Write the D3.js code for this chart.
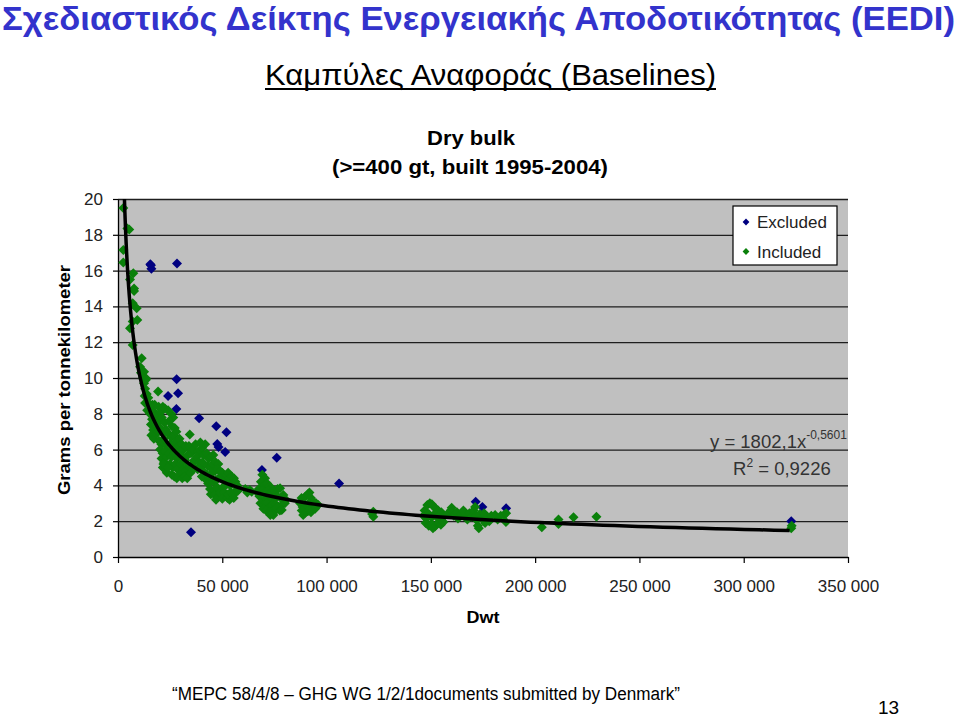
<!DOCTYPE html>
<html><head><meta charset="utf-8">
<script src="https://cdn.jsdelivr.net/npm/d3@7"></script>
<style>
body{margin:0;background:#fff;}
svg{display:block;font-family:"Liberation Sans",Arial,Helvetica,sans-serif;}
</style>
</head><body>
<svg id="c" width="959" height="718"></svg>
<script>
// ---------- data ----------
const mainTitle = "Σχεδιαστικός Δείκτης Ενεργειακής Αποδοτικότητας (EEDI)";
const subTitle = "Καμπύλες Αναφοράς (Baselines)";
const chartTitle = ["Dry bulk", "(>=400 gt, built 1995-2004)"];
const xLabel = "Dwt";
const yLabel = "Grams per tonnekilometer";
const xTicks = [0, 50000, 100000, 150000, 200000, 250000, 300000, 350000];
const yTicks = [0, 2, 4, 6, 8, 10, 12, 14, 16, 18, 20];
const seriesNames = ["Excluded", "Included"];
const seriesColors = ["#000080", "#0a800a"];
// points: [dwt (thousand tonnes), grams per tonne-km]
const excluded = [
  [15.8,16.3],[16.0,16.1],[15.5,16.35],[28.3,16.4],[28.1,9.93],[24.0,9.0],[28.8,9.15],[28.0,8.27],
  [38.9,7.75],[47.1,7.3],[52.0,6.97],[47.6,6.31],[48.2,6.14],[51.4,5.87],[35.0,1.38],[69.0,4.86],
  [76.1,5.55],[106.0,4.1],[171.5,3.09],[174.7,2.8],[186.1,2.72],[322.8,2.0]
];
const included = [
  [2.55,19.5],[4.5,18.35],[5.4,18.3],[2.55,17.15],[2.55,16.45],[7.35,15.85],[5.75,15.5],[7.7,15.0],
  [7.7,14.86],[7.05,14.17],[8.95,13.9],[9.25,13.24],[5.75,12.78],[7.05,13.15],[7.05,11.84],[11.35,11.1],
  [10.55,10.63],[12.5,10.35],[13.4,9.98],
  [11.0,10.3],[12.0,10.0],[12.5,9.7],[13.4,9.9],[13.0,9.4],[13.8,9.1],[14.5,8.9],[12.8,9.0],[13.0,8.6],[14.0,8.2],
  [14.6,8.6],[15.5,8.3],[16.5,8.5],[15.3,8.0],[16.3,7.7],[17.3,8.1],[18.2,7.9],[15.8,7.4],[16.8,7.1],
  [17.8,7.4],[16.0,6.8],[17.2,6.6],[18.5,6.9],[19.2,9.25],[17.6,8.5],
  [19.5,8.4],[20.5,8.1],[21.5,8.4],[22.5,8.3],[19.8,7.6],[21.0,7.8],[22.4,7.5],[19.2,7.0],[20.3,7.2],
  [21.6,6.9],[23.0,7.1],[19.6,6.5],[20.8,6.3],[22.0,6.6],[23.2,6.2],[20.2,6.0],[21.4,5.8],[22.6,5.9],
  [20.9,5.5],[22.1,5.3],[23.3,5.6],[21.5,5.0],[22.7,4.9],[23.4,4.7],[21.8,5.2],
  [24.0,8.2],[25.5,8.0],[26.5,7.8],[24.5,7.6],[25.8,7.3],[27.2,7.2],[24.2,6.9],[25.5,6.7],[26.8,6.8],
  [28.0,7.0],[24.8,6.3],[26.0,6.1],[27.3,6.4],[28.2,6.1],[24.4,5.8],[25.7,5.6],[27.0,5.8],[28.3,5.5],
  [24.9,5.2],[26.2,5.0],[27.5,5.2],[28.5,4.9],[25.8,4.6],[27.0,4.5],[28.2,4.4],[24.0,5.0],
  [29.5,6.6],[30.5,6.3],[31.5,6.0],[32.5,6.2],[29.8,5.9],[31.0,5.6],[32.2,5.4],[33.5,5.7],[30.0,5.2],
  [31.2,4.9],[32.5,4.8],[33.8,5.1],[29.6,4.6],[30.8,4.4],[32.0,4.5],[33.2,4.4],[34.4,6.85],[34.0,6.2],
  [35.0,5.8],[35.5,5.2],[34.8,4.7],
  [36.0,6.0],[37.2,6.3],[38.5,5.9],[36.5,5.4],[37.8,5.6],[39.0,5.3],[36.8,5.0],[38.2,4.9],[39.5,5.0],
  [40.3,6.1],[41.0,5.7],[40.5,5.3],[40.8,4.8],[41.5,4.4],[40.2,4.5],[41.8,6.3],[39.5,6.4],
  [42.5,5.8],[43.5,5.5],[44.7,5.6],[45.7,5.7],[43.0,5.1],[44.2,5.0],[45.5,5.2],[46.8,5.3],[48.1,5.2],
  [42.7,4.6],[43.9,4.4],[45.2,4.7],[46.5,4.8],[47.8,4.9],[49.0,4.8],[50.0,4.7],[43.2,4.1],[44.1,3.8],
  [45.6,4.2],[46.9,4.3],[48.2,4.4],[49.5,4.4],[50.5,4.3],[44.5,3.5],[46.0,3.7],[46.4,3.46],[47.5,3.9],
  [48.1,3.37],[49.0,3.6],[50.3,3.9],[51.0,3.6],[51.5,4.0],[47.0,3.2],[50.0,3.25],[52.5,3.3],[53.5,3.2],
  [52.0,4.6],[52.8,4.7],[53.5,4.4],[54.5,4.5],[55.6,4.4],[52.5,4.1],[53.8,4.0],[55.0,4.1],[56.3,4.2],
  [57.2,4.0],[52.8,3.5],[54.0,3.6],[55.3,3.46],[56.5,3.7],[57.5,3.7],[55.5,3.3],[58.0,3.8],
  [61.0,3.8],[63.2,3.74],[64.1,3.65],[62.0,3.6],
  [69.2,4.6],[70.5,4.4],[68.5,4.2],[70.0,4.0],[71.5,4.1],[72.8,3.95],[67.5,3.8],[69.0,3.7],[70.5,3.6],
  [72.0,3.7],[73.5,3.6],[75.0,3.7],[76.5,3.8],[77.7,3.84],[67.8,3.4],[69.2,3.3],[70.7,3.2],[72.2,3.3],
  [73.6,3.2],[75.1,3.3],[76.5,3.4],[78.0,3.3],[79.3,3.46],[68.3,3.0],[69.8,2.9],[71.3,3.0],[72.8,2.8],
  [74.2,2.9],[75.6,2.95],[77.0,2.8],[78.5,2.9],[80.0,3.0],[69.7,2.7],[71.0,2.6],[72.5,2.5],[73.7,2.53],
  [75.2,2.55],[76.1,2.75],[77.6,2.6],[78.5,2.63],[74.5,2.35],[73.0,2.35],[66.8,3.6],[80.5,3.2],
  [88.0,3.3],[89.7,3.37],[91.0,3.5],[91.8,3.6],[92.5,3.3],[93.7,3.1],[95.0,3.0],[96.0,2.9],[87.3,3.0],
  [88.5,2.8],[90.0,2.9],[91.5,3.0],[93.0,2.8],[94.5,2.7],[88.1,2.6],[89.5,2.45],[91.0,2.55],[92.5,2.5],[88.8,2.35],
  [122.4,2.53],[122.4,2.25],[121.8,2.4],
  [147.0,2.6],[148.3,2.9],[149.5,3.0],[150.5,2.95],[151.5,2.8],[152.5,2.7],[153.5,2.6],[155.0,2.5],
  [146.5,2.3],[147.8,2.15],[149.0,2.4],[150.3,2.2],[151.8,2.4],[153.0,2.2],[154.4,2.35],[155.5,2.2],
  [156.5,2.3],[147.5,1.9],[149.0,1.75],[150.5,1.85],[152.0,1.7],[153.5,1.9],[154.8,1.8],[156.0,1.95],[151.0,1.6],
  [158.0,2.4],[159.5,2.6],[160.0,2.75],[161.0,2.3],[162.5,2.5],[163.0,2.15],[164.5,2.4],[165.6,2.6],
  [166.5,2.3],[167.5,2.1],[168.5,2.45],[169.5,2.25],[170.5,2.6],[171.2,2.8],[171.5,2.3],[172.0,2.05],
  [172.5,1.75],[173.0,1.6],[173.5,2.4],[174.5,2.15],[175.5,2.45],[176.0,1.9],[177.0,2.25],[178.0,2.0],
  [179.0,2.3],[180.8,2.35],[182.0,2.1],[183.5,2.3],[185.0,2.35],[186.1,2.45],[186.0,1.95],
  [203.2,1.66],[211.2,2.1],[211.2,1.84],[218.4,2.22],[229.4,2.25],[322.8,1.6],[323.0,1.75]
];
// power trendline shown on the chart: y = 1802,1 x^-0,5601
const trendCoef = 1802.1;
const trendExp = -0.5601;
const trendDomain = [3090, 322000];
const equationMain = "y = 1802,1x";
const equationSup = "-0,5601";
const rSquared = ["R", "2", " = 0,9226"];
const footer = "\u201CMEPC 58/4/8 \u2013 GHG WG 1/2/1documents submitted by Denmark\u201D";
const pageNumber = "13";

// ---------- drawing ----------
const svg = d3.select("#c");
const L = 118, R = 848, T = 199, B = 557;
const x = d3.scaleLinear().domain([0, 350000]).range([L, R]);
const y = d3.scaleLinear().domain([0, 20]).range([B, T]);
const fmt = d3.formatLocale({decimal: ",", thousands: " ", grouping: [3], currency: ["", ""]}).format(",d");

// titles
svg.append("text").attr("x", 2).attr("y", 30)
  .attr("font-size", 33).attr("font-weight", "bold").attr("fill", "#3333cc")
  .attr("textLength", 953).attr("lengthAdjust", "spacingAndGlyphs").text(mainTitle);
svg.append("text").attr("x", 265).attr("y", 85)
  .attr("font-size", 29).attr("fill", "#000")
  .attr("textLength", 451).attr("lengthAdjust", "spacingAndGlyphs").text(subTitle);
svg.append("line").attr("x1", 265).attr("x2", 716).attr("y1", 89).attr("y2", 89)
  .attr("stroke", "#000").attr("stroke-width", 2);

svg.append("text").attr("x", 471).attr("y", 145).attr("text-anchor", "middle")
  .attr("font-size", 21).attr("font-weight", "bold").attr("textLength", 88)
  .attr("lengthAdjust", "spacingAndGlyphs").text(chartTitle[0]);
svg.append("text").attr("x", 470).attr("y", 174).attr("text-anchor", "middle")
  .attr("font-size", 21).attr("font-weight", "bold").attr("textLength", 276)
  .attr("lengthAdjust", "spacingAndGlyphs").text(chartTitle[1]);

// plot background
svg.append("rect").attr("x", L).attr("y", T).attr("width", R - L).attr("height", B - T).attr("fill", "#c0c0c0");

// gridlines
svg.append("g").attr("transform", `translate(${L},0)`)
  .call(d3.axisLeft(y).tickValues(yTicks.filter(v => v > 0)).tickSize(-(R - L)).tickFormat(""))
  .call(g => g.select(".domain").remove())
  .call(g => g.selectAll("line").attr("stroke", "#1e1e1e").attr("stroke-width", 1.3));

// axes
const yAx = svg.append("g").attr("transform", `translate(${L},0)`)
  .call(d3.axisLeft(y).tickValues(yTicks).tickSize(5).tickPadding(10).tickSizeOuter(0));
const xAx = svg.append("g").attr("transform", `translate(0,${B})`)
  .call(d3.axisBottom(x).tickValues(xTicks).tickFormat(fmt).tickSize(6).tickPadding(17).tickSizeOuter(0));
[yAx, xAx].forEach(a => {
  a.selectAll("text").attr("font-size", 17).attr("fill", "#222").attr("font-family", '"Liberation Sans",Arial,sans-serif');
  a.selectAll("line").attr("stroke", "#000").attr("stroke-width", 1.2);
  a.select(".domain").attr("stroke", "#000").attr("stroke-width", 1.3);
});

// axis labels
svg.append("text").attr("transform", "translate(70,380) rotate(-90)").attr("text-anchor", "middle")
  .attr("font-size", 17).attr("font-weight", "bold").attr("textLength", 230)
  .attr("lengthAdjust", "spacingAndGlyphs").text(yLabel);
svg.append("text").attr("x", 483).attr("y", 623).attr("text-anchor", "middle")
  .attr("font-size", 17).attr("font-weight", "bold").attr("textLength", 33)
  .attr("lengthAdjust", "spacingAndGlyphs").text(xLabel);

// markers
const diamond = r => `M0,${-r}L${r},0L0,${r}L${-r},0Z`;
const plot = svg.append("g");
[excluded, included].forEach((data, i) => {
  plot.append("g").selectAll("path").data(data).join("path")
    .attr("transform", d => `translate(${x(d[0] * 1000)},${y(d[1])})`)
    .attr("d", diamond(5)).attr("fill", seriesColors[i]);
});

// trendline
svg.append("clipPath").attr("id", "pc").append("rect")
  .attr("x", L).attr("y", T).attr("width", R - L).attr("height", B - T);
const tx = d3.range(0, 201).map(k => trendDomain[0] * Math.pow(trendDomain[1] / trendDomain[0], k / 200));
svg.append("path").attr("clip-path", "url(#pc)")
  .datum(tx)
  .attr("d", d3.line().x(d => x(d)).y(d => y(trendCoef * Math.pow(d, trendExp))))
  .attr("fill", "none").attr("stroke", "#000").attr("stroke-width", 3.5);

// equation
const eq = svg.append("text").attr("x", 710).attr("y", 448).attr("font-size", 18.5).attr("fill", "#333");
eq.append("tspan").text(equationMain);
eq.append("tspan").attr("font-size", 12).attr("dy", -9).text(equationSup);
const r2 = svg.append("text").attr("x", 733).attr("y", 475).attr("font-size", 18.5).attr("fill", "#333");
r2.append("tspan").text(rSquared[0]);
r2.append("tspan").attr("font-size", 12).attr("dy", -8).text(rSquared[1]);
r2.append("tspan").attr("dy", 8).text(rSquared[2]);

// legend
const lg = svg.append("g");
lg.append("rect").attr("x", 733).attr("y", 206).attr("width", 104).attr("height", 59)
  .attr("fill", "#fff").attr("stroke", "#000").attr("stroke-width", 1.2);
seriesNames.forEach((n, i) => {
  const yy = 222 + i * 29.5;
  lg.append("path").attr("transform", `translate(746,${yy})`).attr("d", diamond(3.4)).attr("fill", seriesColors[i]);
  lg.append("text").attr("x", 757).attr("y", yy + 6).attr("font-size", 17).attr("fill", "#222").text(n);
});

// footer
svg.append("text").attr("x", 172).attr("y", 700).attr("font-size", 18)
  .attr("textLength", 508).attr("lengthAdjust", "spacingAndGlyphs").text(footer);
svg.append("text").attr("x", 878).attr("y", 714).attr("font-size", 19).text(pageNumber);
</script>
</body></html>
